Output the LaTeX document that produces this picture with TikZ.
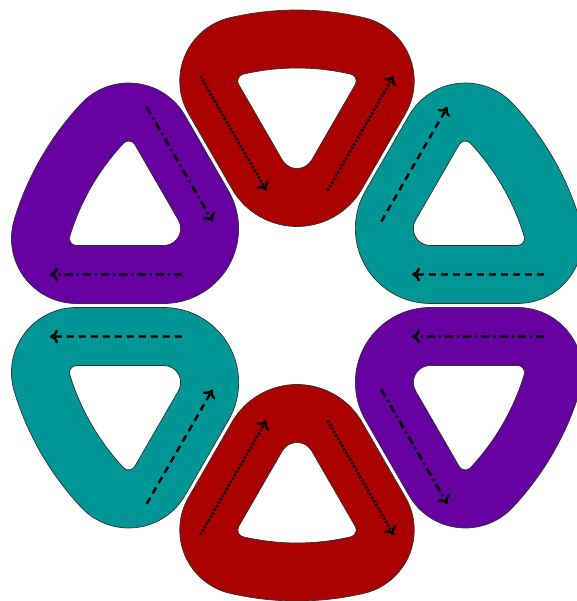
\documentclass[tikz,border=0pt]{standalone}
\usetikzlibrary{arrows.meta}
\definecolor{ringred}{RGB}{170,0,0}
\definecolor{ringteal}{RGB}{0,150,150}
\definecolor{ringpurple}{RGB}{102,0,160}
\tikzset{
  ringfill/.style={draw=black!80, line width=0.7pt, even odd rule},
  flow/.style={line width=2.4pt, -{To[length=8pt,width=14pt]}},
  reddots/.style={flow, dash pattern=on 2.2pt off 1.8pt},
  tealdash/.style={flow, dash pattern=on 7pt off 5pt},
  purpledash/.style={flow, dash pattern=on 8pt off 4pt on 2.2pt off 4pt},
}
% one ring: #1 rotation, #2 colour, #3 line style, #4 type (A or B)
\newcommand\ringshape[4]{%
  \begin{scope}[rotate=#1]
    \path[ringfill, fill=#2]
      (\oTx,\oTy) -- (\oCx,\oCy)
        arc[start angle=-30, end angle=\oPhi, radius=65]
        arc[start angle=\oPhi, end angle=\oPsi, radius=295.5]
        arc[start angle=\oPsi, end angle=210, radius=65]
        -- (-\oTx,\oTy)
        arc[start angle=210, end angle=330, radius=75] -- cycle
      (\iTx,\iTy) -- (\iCx,\iCy)
        arc[start angle=-30, end angle=\iPhi, radius=7]
        arc[start angle=\iPhi, end angle=\iPsi, radius=237.5]
        arc[start angle=\iPsi, end angle=210, radius=7]
        -- (-\iTx,\iTy)
        arc[start angle=210, end angle=330, radius=17] -- cycle;
    \coordinate (pa) at (-96.65,229.4);
    \coordinate (pb) at (-30.65,115.1);
    \coordinate (pc) at (30.65,115.1);
    \coordinate (pd) at (96.65,229.4);
    \if#4A
      \draw[#3] (pa) -- (pb);
      \draw[#3] (pc) -- (pd);
    \else
      \draw[#3] (pb) -- (pa);
      \draw[#3] (pd) -- (pc);
    \fi
  \end{scope}}
\begin{document}
\begin{tikzpicture}[x=1pt,y=1pt]
  \useasboundingbox (-297,-295.5) rectangle (279,305.5);
  % outer contour: d=2, rho=295.5, tip radius 75, corner radius 65
  \pgfmathsetmacro\oY{2*(2+75)}
  \pgfmathsetmacro\oTx{75*cos(-30)}
  \pgfmathsetmacro\oTy{\oY+75*sin(-30)}
  \pgfmathsetmacro\oPhi{60+asin((2+65)/(295.5-65))}
  \pgfmathsetmacro\oPsi{180-\oPhi}
  \pgfmathsetmacro\oCx{(295.5-65)*cos(\oPhi)+65*cos(-30)}
  \pgfmathsetmacro\oCy{(295.5-65)*sin(\oPhi)+65*sin(-30)}
  % hole: d=60, rho=237.5, tip radius 17, corner radius 7
  \pgfmathsetmacro\iY{2*(60+17)}
  \pgfmathsetmacro\iTx{17*cos(-30)}
  \pgfmathsetmacro\iTy{\iY+17*sin(-30)}
  \pgfmathsetmacro\iPhi{60+asin((60+7)/(237.5-7))}
  \pgfmathsetmacro\iPsi{180-\iPhi}
  \pgfmathsetmacro\iCx{(237.5-7)*cos(\iPhi)+7*cos(-30)}
  \pgfmathsetmacro\iCy{(237.5-7)*sin(\iPhi)+7*sin(-30)}
  \ringshape{0}{ringred}{reddots}{A}
  \ringshape{60}{ringpurple}{purpledash}{B}
  \ringshape{120}{ringteal}{tealdash}{A}
  \ringshape{180}{ringred}{reddots}{B}
  \ringshape{240}{ringpurple}{purpledash}{A}
  \ringshape{300}{ringteal}{tealdash}{B}
\end{tikzpicture}
\end{document}
